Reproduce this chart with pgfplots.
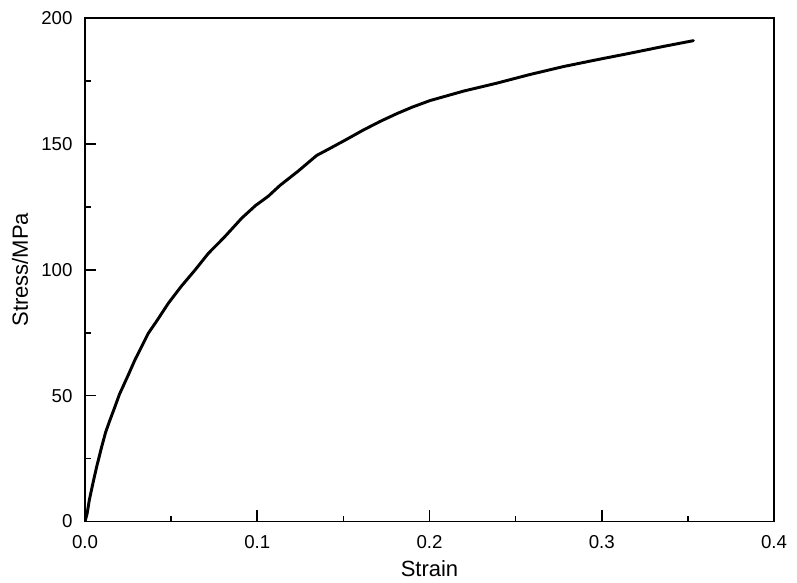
\documentclass[border=0pt]{standalone}
\usepackage{fontspec}
\setmainfont{Liberation Sans}
\usepackage{pgfplots}
\pgfplotsset{compat=1.18}
\newcommand\tickfont{\fontsize{14}{16}\selectfont}

\begin{document}
\begin{tikzpicture}
% 1 px of the reference = 0.75pt
\useasboundingbox (-63.75pt,-46.1pt) rectangle (534pt,391.1pt);
\begin{axis}[
  at={(0,0)}, anchor=south west,
  scale only axis, width=516.75pt, height=377.6pt,
  xmin=0, xmax=0.4, ymin=0, ymax=200,
  xtick={0,0.1,0.2,0.3,0.4}, ytick={0,50,100,150,200},
  minor tick num=1,
  tick pos=left, tick align=inside,
  major tick length=8.25pt, minor tick length=4.3pt,
  major tick style={line width=1.3pt, black},
  minor tick style={line width=1.3pt, black},
  axis line style={line width=1.3pt},
  /pgf/number format/assume math mode=true,
  xticklabel={\tickfont\pgfmathprintnumber[fixed,fixed zerofill,precision=1]{\tick}},
  yticklabel={\tickfont\pgfmathprintnumber{\tick}},
  xticklabel style={inner sep=0pt, anchor=north, yshift=-10pt},
  yticklabel style={inner sep=0pt, anchor=east, xshift=-9.2pt},
  xlabel={Strain}, ylabel={Stress/MPa},
  every axis label/.append style={font=\fontsize{16.5}{20}\selectfont, inner sep=0pt},
  xlabel style={at={([yshift=-40.9pt]axis description cs:0.5,0)}, anchor=base},
  ylabel style={at={([xshift=-42.75pt]axis description cs:0,0.5)}, anchor=base},
]
\addplot[black, line width=2.2pt, line join=round, line cap=round] coordinates {
(0,0) (0.0012,3) (0.0025,8.5) (0.0048,15.8) (0.0068,21.8) (0.0097,29.7)
(0.0120,35.5) (0.0145,40.3) (0.0174,45.6) (0.0200,50.5) (0.0250,58)
(0.0290,64.2) (0.0368,74.8) (0.0420,80) (0.0484,86.7) (0.0560,93.5)
(0.0639,99.9) (0.0716,106.5) (0.0810,113) (0.0910,120.5) (0.0990,125.5)
(0.1064,129.2) (0.1132,133.5) (0.1238,139.2) (0.1300,142.8) (0.1345,145.4)
(0.1422,148.2) (0.1519,151.8) (0.1616,155.5) (0.1713,158.9) (0.1810,162.0)
(0.1900,164.6) (0.2003,167.2) (0.2200,171) (0.2390,174.1) (0.2580,177.5)
(0.2777,180.7) (0.2970,183.4) (0.3164,186) (0.3350,188.6) (0.3532,191)};
\end{axis}
\end{tikzpicture}
\end{document}
